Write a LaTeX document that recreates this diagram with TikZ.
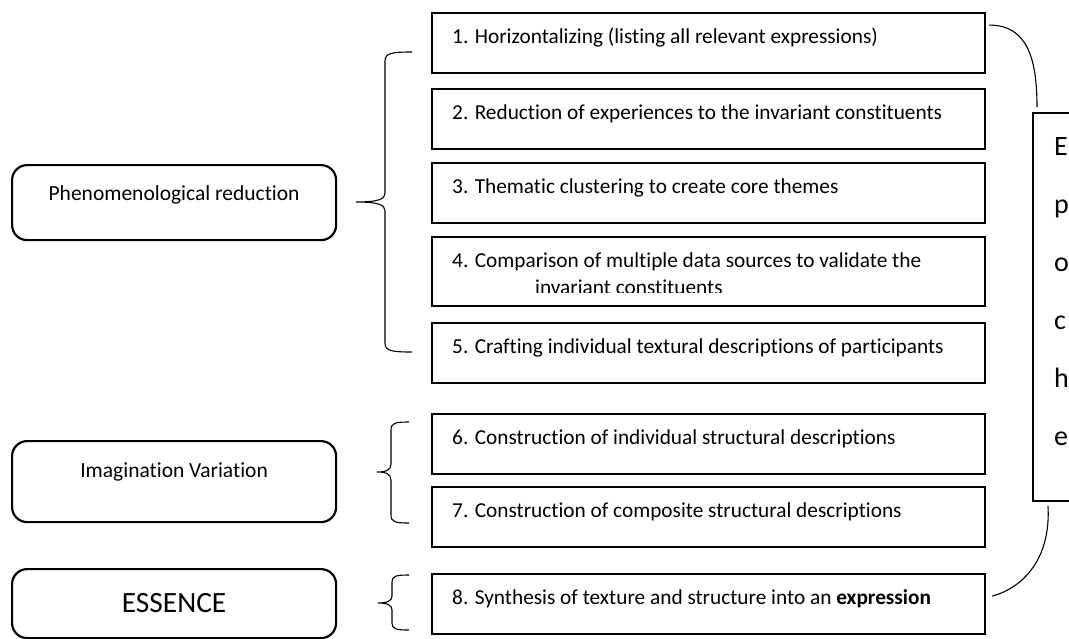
\documentclass[tikz,border=0pt]{standalone}
\usepackage{fontspec}
\setmainfont{Carlito}[Ligatures=NoCommon]
\usepackage{tikz}
\usetikzlibrary{positioning, calc}

\tikzset{
  stepbox/.style={draw, line width=2.2pt, minimum width=553pt, minimum height=60pt, anchor=north west, inner sep=0pt},
  steptext/.style={anchor=base west, inner sep=0pt, font=\fontsize{21.3}{25}\selectfont},
  phasebox/.style={draw, line width=2.2pt, rounded corners=15pt, minimum width=324pt, anchor=north west, inner sep=0pt},
  phasetext/.style={anchor=base, inner sep=0pt, font=\fontsize{21.5}{25}\selectfont},
  epletra/.style={anchor=base west, inner sep=0pt, font=\fontsize{28}{30}\selectfont},
  chave/.style={line width=1.1pt},
  arco/.style={line width=1.1pt},
}

\begin{document}
\begin{tikzpicture}[x=1pt, y=-1pt]
\clip (0,0) rectangle (1069,638);

% LAYER 1: Caixas das etapas
\node[stepbox] (s1) at (431,12) {};
\node[stepbox] (s2) at (431,88) {};
\node[stepbox] (s3) at (431,162) {};
\node[stepbox, minimum height=69pt] (s4) at (431,236) {};
\node[stepbox] (s5) at (431,322) {};
\node[stepbox] (s6) at (431,413) {};
\node[stepbox] (s7) at (431,486) {};
\node[stepbox] (s8) at (431,573) {};

\node[steptext] (t1) at ([xshift=21pt,yshift=-31pt]s1.north west) {1. Horizontalizing (listing all relevant expressions)};
\node[steptext] (t2) at ([xshift=21pt,yshift=-31pt]s2.north west) {2. Reduction of experiences to the invariant constituents};
\node[steptext] (t3) at ([xshift=21pt,yshift=-31pt]s3.north west) {3. Thematic clustering to create core themes};
\node[steptext] (t4) at ([xshift=21pt,yshift=-31pt]s4.north west) {4. Comparison of multiple data sources to validate the};
\begin{scope}
  \clip (431,236) rectangle (984,292);
  \node[steptext] (t4b) at ([xshift=104pt,yshift=-58pt]s4.north west) {invariant constituents};
\end{scope}
\node[steptext] (t5) at ([xshift=21pt,yshift=-31pt]s5.north west) {5. Crafting individual textural descriptions of participants};
\node[steptext] (t6) at ([xshift=21pt,yshift=-31pt]s6.north west) {6. Construction of individual structural descriptions};
\node[steptext] (t7) at ([xshift=21pt,yshift=-31pt]s7.north west) {7. Construction of composite structural descriptions};
\node[steptext] (t8) at ([xshift=21pt,yshift=-31pt]s8.north west) {8. Synthesis of texture and structure into an \textbf{expression}};

% LAYER 2: Fases (caixas arredondadas)
\node[phasebox, minimum height=75pt] (phen) at (11,164) {};
\node[phasebox, minimum height=81pt] (imag) at (11,440) {};
\node[phasebox, minimum height=69pt] (ess) at (11,568) {};
\node[phasetext] (phenT) at ([yshift=-36pt]phen.north) {Phenomenological reduction};
\node[phasetext] (imagT) at ([yshift=-37pt]imag.north) {Imagination Variation};
\node[phasetext, font=\fontsize{29.4}{32}\selectfont] (essT) at ([yshift=-44pt]ess.north) {ESSENCE};

% LAYER 3: Chaves
\draw[chave] (412,52) .. controls (392,52) and (385,53) .. (385,61) -- (385,193)
  .. controls (385,199) and (379,202) .. (356,202)
  .. controls (379,202) and (385,205) .. (385,211) -- (385,343)
  .. controls (385,351) and (392,352) .. (412,352);
\draw[chave] (409,422) .. controls (395,422) and (391,423) .. (391,430) -- (391,464)
  .. controls (391,470) and (386,472) .. (377,472)
  .. controls (386,472) and (391,474) .. (391,480) -- (391,515)
  .. controls (391,522) and (395,523) .. (409,523);
\draw[chave] (409,575) .. controls (396,575) and (392,576) .. (392,582) -- (392,596)
  .. controls (392,601) and (387,603) .. (378,603)
  .. controls (387,603) and (392,605) .. (392,610) -- (392,623)
  .. controls (392,629) and (396,630) .. (409,630);

% LAYER 4: Caixa Epoche
\draw[line width=2.2pt] (1100,113) -- (1033,113) -- (1033,501) -- (1100,501);
\node[epletra] (ep1) at (1054,155) {E};
\node[epletra] (ep2) at (1054,213) {p};
\node[epletra] (ep3) at (1054,271) {o};
\node[epletra] (ep4) at (1054,329) {c};
\node[epletra] (ep5) at (1054,387) {h};
\node[epletra] (ep6) at (1054,445) {e};

% LAYER 5: Arcos ligando etapas 1 e 8 a caixa Epoche
\coordinate (epTop) at (1037,107);
\coordinate (epBot) at (1048,506);
\draw[arco] ([xshift=3pt,yshift=18pt]s1.east) .. controls (1028,25) and (1037,60) .. (epTop);
\draw[arco] (epBot) .. controls (1051,560) and (1022,588) .. ([xshift=6pt,yshift=8pt]s8.east);
\end{tikzpicture}
\end{document}
